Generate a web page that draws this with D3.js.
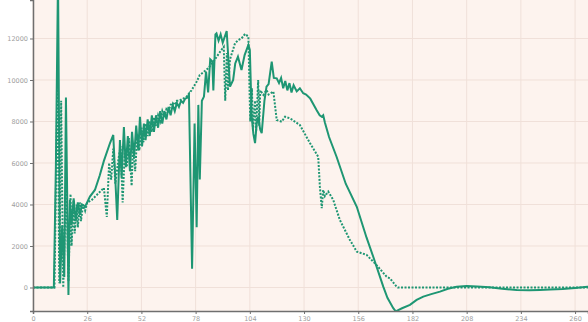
<!DOCTYPE html>
<meta charset="utf-8">
<style>
body { margin: 0; background: #fff; }
.axis path, .axis line { fill: none; stroke: #6f6f6f; }
.axis text { fill: #a0a0a0; font: 6.5px "DejaVu Sans", sans-serif; }
.grid line { stroke: #f0e0d9; stroke-width: 1; }
</style>
<body>
<script src="https://d3js.org/d3.v7.min.js"></script>
<script>

// x ticks and y ticks
const xTicks = [0, 26, 52, 78, 104, 130, 156, 182, 208, 234, 260];
const yTicks = [0, 2000, 4000, 6000, 8000, 10000, 12000];

// solid series [x, value]
const solid = [
  [0,0],[10,0],[11,6000],[12,15000],[13,200],[14,3000],[15,500],[15.8,9150],[17,-360],[17.7,4220],
  [18.5,3000],[19.5,4300],[20.5,3200],[21.5,4100],[22.5,3500],[23.5,4000],[25,3900],[27.3,4380],
  [29.7,4700],[32,5400],[34,6100],[36.9,6950],[38.5,7350],[40.4,3250],[41.7,7110],[42.5,5300],
  [43.6,7730],[44.5,5800],[45.5,7300],[46.5,5600],[47.5,7500],[48.5,6300],[49.5,7800],[50.5,6600],
  [51.3,8230],[52.3,6800],[53.2,7900],[54,7100],[55,8100],[56,7300],[57,8300],[58,7500],[59,8300],
  [60,7700],[61,8500],[62,7900],[63,8500],[64,8100],[65,8700],[66,8300],[67,8800],[68,8500],
  [69,8900],[70,8700],[71,9000],[72,8900],[73,9100],[74,9150],[74.8,9300],[76.3,900],[77.5,7900],
  [78.5,2900],[79.3,8800],[80,5200],[81,9000],[82,9200],[83,10400],[84,9400],[85,11000],[86,10900],
  [86.5,9500],[87.5,12200],[88,12250],[89,11900],[90,12200],[91,11800],[92.9,12360],[94.5,9680],
  [96,10000],[97,10800],[98.3,11120],[100,10480],[101.5,11200],[103.3,11690],[104,11450],[104.9,8230],
  [105.7,7400],[106.5,6960],[107.3,7900],[108,8230],[109,7600],[109.7,7440],[111,9000],[112,9680],
  [113,9800],[114.5,10880],[115.5,10100],[116.9,10080],[118,9850],[119,10100],[120,9600],[121,9950],
  [122,9500],[123,9850],[124,9400],[125,9750],[126.5,9450],[128,9600],[129.6,9360],[131,9300],
  [133,9100],[136,8550],[137.5,8300],[138.5,8230],[139.2,8300],[140,7950],[142,7250],[145.6,6300],
  [150,5000],[155.3,3890],[160,2400],[163.2,1480],[168,40],[170,-500],[172.8,-1000],[174,-1150],
  [177,-1000],[180.8,-840],[184,-600],[187.2,-440],[191,-320],[195.2,-200],[199,-60],[203.2,40],
  [208,70],[213,50],[219,10],[225,-60],[232,-120],[238,-130],[243,-120],[248,-100],[254,-70],
  [260,-20],[266,40],[272,60]
];

// dotted series [x, value]
const dotted = [
  [0,0],[10.3,0],[11.8,10400],[12.6,200],[13.5,9000],[14.5,0],[16,5300],[17,300],[18,4500],
  [18.5,2000],[19.5,4200],[20,2600],[21,4000],[21.5,2900],[22.5,4100],[23,3200],[24,4000],[25,3700],
  [26,4100],[28,4200],[30,4400],[32,4600],[34,4800],[35.4,3400],[36.5,6000],[37.5,5200],[38.5,6700],
  [39.5,5000],[41,6200],[42,6800],[43,4100],[44,6500],[45,5800],[46,7200],[47.3,4900],[48,6800],
  [49,5600],[50,7400],[51,6600],[52,7700],[53,7000],[54,7900],[55,7300],[56,8000],[57,7500],
  [58,8200],[59,7800],[60,8300],[61,8000],[62,8500],[63,8200],[64,8600],[65,8500],[66,8800],
  [67,8900],[68,8800],[69,9000],[70,9000],[72,9100],[73.7,9200],[76,9500],[78.5,9920],[80,10240],
  [84,10560],[86.5,10880],[88,11100],[90,11400],[91.5,11600],[92.2,9000],[93,11300],[93.5,9500],
  [94.5,11000],[96.9,11770],[98.5,11930],[100,12000],[101.7,12220],[103.3,12090],[104.2,8000],
  [105,9600],[105.5,7600],[106.5,9000],[107,7500],[108,10000],[108.5,7800],[109,9500],[110.5,9280],
  [112,9520],[113,9300],[115.3,9440],[116.9,8070],[119.3,7990],[120.9,8230],[123.3,8150],[128,7830],
  [132.9,6950],[136.8,6300],[137.6,4860],[138.5,3820],[139.2,4700],[140,4400],[141.6,4620],
  [144,4220],[147.2,3250],[152,2290],[155.3,1730],[160,1570],[164.8,1080],[169.6,520],[171.2,440],
  [174.4,40],[175,0],[272,0]
];

var margin = {top: 0, right: 0, bottom: 11, left: 33},
    width = 588 - margin.left - margin.right,
    height = 322 - margin.top - margin.bottom;

var x = d3.scaleLinear().domain([0, 266.2]).range([0, width]);
var y = d3.scaleLinear().domain([-1133, 13855]).range([height, 0]);

var svg = d3.select("body").append("svg")
    .attr("width", 588)
    .attr("height", 322)
  .append("g")
    .attr("transform", "translate(" + margin.left + "," + margin.top + ")");

svg.append("rect")
    .attr("width", width)
    .attr("height", height)
    .attr("fill", "#fdf3ee");

svg.append("clipPath").attr("id", "clip")
  .append("rect").attr("width", width).attr("height", height);

// grid
svg.append("g").attr("class", "grid")
  .selectAll("line").data(xTicks).enter().append("line")
    .attr("x1", d => x(d)).attr("x2", d => x(d))
    .attr("y1", 0).attr("y2", height);
svg.append("g").attr("class", "grid")
  .selectAll("line").data(yTicks).enter().append("line")
    .attr("x1", 0).attr("x2", width)
    .attr("y1", d => y(d)).attr("y2", d => y(d));

var line = d3.line()
    .x(d => x(d[0]))
    .y(d => y(d[1]));

var plot = svg.append("g").attr("clip-path", "url(#clip)");

plot.append("path")
    .datum(dotted)
    .attr("fill", "none")
    .attr("stroke", "#1e9673")
    .attr("stroke-width", 2)
    .attr("stroke-dasharray", "2,1.5")
    .attr("d", line);

plot.append("path")
    .datum(solid)
    .attr("fill", "none")
    .attr("stroke", "#1e9673")
    .attr("stroke-width", 2)
    .attr("d", line);

svg.append("g")
    .attr("class", "axis")
    .attr("transform", "translate(0," + height + ")")
    .call(d3.axisBottom(x).tickValues(xTicks).tickFormat(d3.format("d")).tickSize(3).tickPadding(2))
    .call(g => g.select(".domain").attr("stroke-width", 1.5));

svg.append("g")
    .attr("class", "axis")
    .call(d3.axisLeft(y).tickValues(yTicks).tickFormat(d3.format("d")).tickSize(3).tickPadding(2))
    .call(g => g.select(".domain").attr("stroke-width", 1.5));

</script>
